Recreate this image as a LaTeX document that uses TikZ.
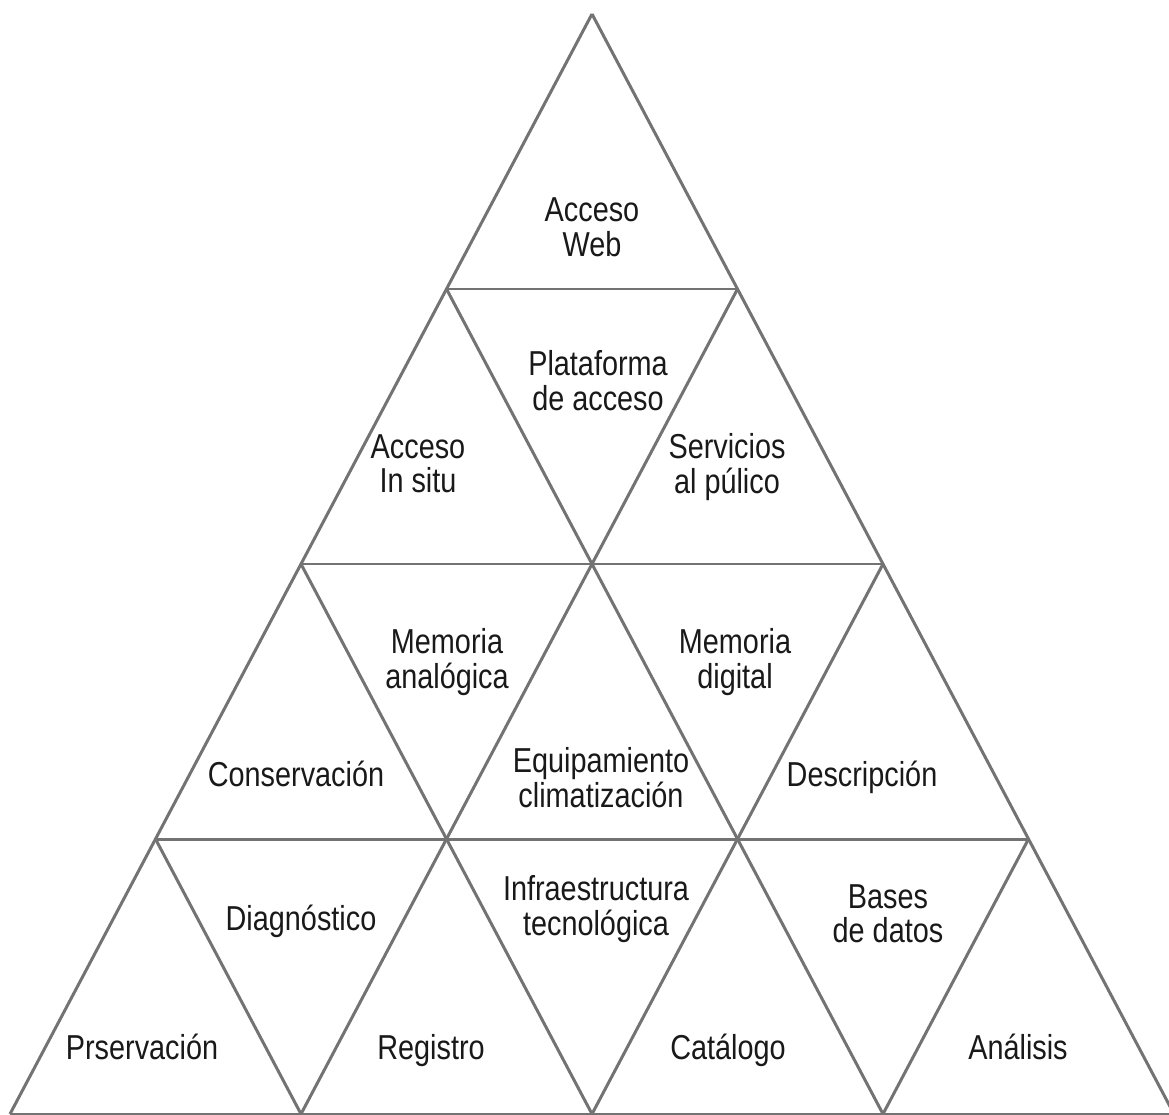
\documentclass[tikz,border=0pt]{standalone}
\usepackage{fontspec}
\setmainfont{Liberation Sans}
\usepackage{graphicx}
\newcommand{\tallbox}[1]{\scalebox{1}[1.2]{\begin{tabular}{@{}c@{}}#1\end{tabular}}}

\begin{document}
\begin{tikzpicture}[x=0.01cm,y=-0.01cm,line join=round]
\tikzstyle{grid}=[draw=black!55,line width=0.85pt]
\tikzstyle{lbl}=[inner sep=0pt,yshift=-0.045cm,text=black!90,font=\fontsize{8.2}{7.8}\selectfont]

\useasboundingbox[fill=white] (0,0) rectangle (1169,1115);

% lattice points, row k, position j
\foreach \k in {0,...,4}
  \foreach \j in {0,...,\k}
    \coordinate (p\k\j) at ({592-145.5*\k+291*\j},{14+275*\k});

% rows
\foreach \k in {1,...,4}
  \draw[grid] (p\k0) -- (p\k\k);
% slopes
\foreach \j in {0,...,3}
  \draw[grid] (p\j\j) -- (p4\j);
\foreach \m in {0,...,3}{
  \pgfmathtruncatemacro\e{4-\m}
  \draw[grid] (p\m0) -- (p4\e);
}

% row 1
\node[lbl] (web)   at (592,228)  {\tallbox{Acceso\\Web}};
% row 2
\node[lbl] (plat)  at (598,381)  {\tallbox{Plataforma\\de acceso}};
\node[lbl] (situ)  at (418,464)  {\tallbox{Acceso\\In situ}};
\node[lbl] (serv)  at (727,464)  {\tallbox{Servicios\\al púlico}};
% row 3
\node[lbl] (anal)  at (447,659)  {\tallbox{Memoria\\analógica}};
\node[lbl] (digi)  at (735,659)  {\tallbox{Memoria\\digital}};
\node[lbl] (cons)  at (296,774)  {\tallbox{Conservación}};
\node[lbl] (equi)  at (601,778)  {\tallbox{Equipamiento\\climatización}};
\node[lbl] (desc)  at (862,774)  {\tallbox{Descripción}};
% row 4
\node[lbl] (diag)  at (301,918)  {\tallbox{Diagnóstico}};
\node[lbl] (infra) at (596,906)  {\tallbox{Infraestructura\\tecnológica}};
\node[lbl] (bases) at (888,914)  {\tallbox{Bases\\de datos}};
\node[lbl] (pres)  at (142,1047) {\tallbox{Prservación}};
\node[lbl] (regi)  at (431,1047) {\tallbox{Registro}};
\node[lbl] (cata)  at (728,1047) {\tallbox{Catálogo}};
\node[lbl] (anali) at (1018,1047) {\tallbox{Análisis}};

\end{tikzpicture}
\end{document}
